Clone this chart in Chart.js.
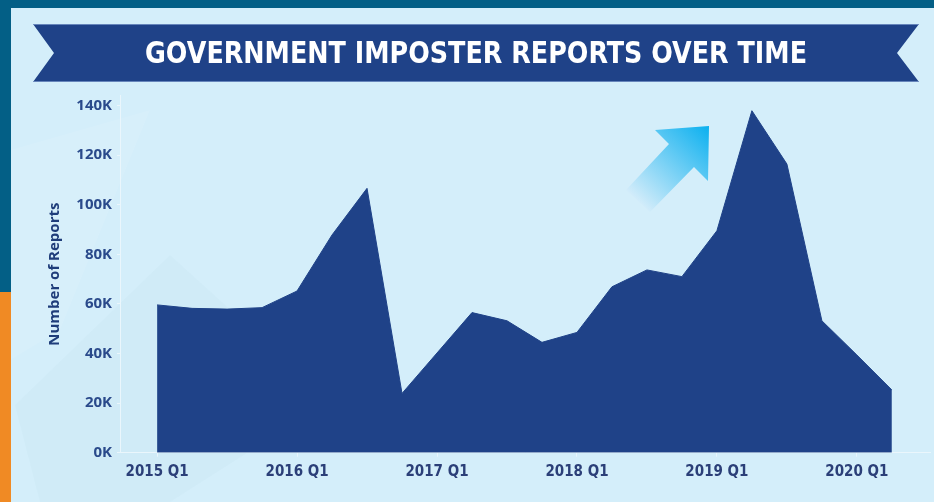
<!doctype html>
<html lang="en">
  <head>
    <meta charset="utf-8">
    <title>Government imposter reports over time</title>
    <script src="https://cdn.jsdelivr.net/npm/chart.js@4.4.0/dist/chart.umd.min.js"></script>
    <style>
      html, body { margin: 0; padding: 0; background: #d4eefa; }
      #wrap { width: 934px; height: 502px; position: relative; }
    </style>
  </head>
  <body>
    <div id="wrap"><canvas id="reportsChart"></canvas></div>

    <script>
      // quarterly report counts
      const quarters = ['2015 Q1', '2015 Q2', '2015 Q3', '2015 Q4',
                        '2016 Q1', '2016 Q2', '2016 Q3', '2016 Q4',
                        '2017 Q1', '2017 Q2', '2017 Q3', '2017 Q4',
                        '2018 Q1', '2018 Q2', '2018 Q3', '2018 Q4',
                        '2019 Q1', '2019 Q2', '2019 Q3', '2019 Q4',
                        '2020 Q1', '2020 Q2'];
      const reports = [59600, 58200, 57900, 58500,
                       65200, 87800, 106600, 23900,
                       40200, 56500, 53200, 44500,
                       48500, 66900, 73700, 71000,
                       89500, 137900, 116400, 53200,
                       39400, 25300];
      const xTickIdx = [0, 4, 8, 12, 16, 20];
      const yTicks = [0, 20000, 40000, 60000, 80000, 100000, 120000, 140000];
      const chartTitle = 'GOVERNMENT IMPOSTER REPORTS OVER TIME';
      const yTitle = 'Number of Reports';

      const navy = '#1f4288';
      const axisLine = '#eaf6fc';

      // background, borders, ribbon banner and the arrow
      const decor = {
        id: 'decor',
        beforeDraw(chart) {
          const ctx = chart.ctx;
          ctx.save();
          ctx.fillStyle = '#d4eefa';
          ctx.fillRect(0, 0, 934, 502);

          // faint watermark shapes
          ctx.fillStyle = 'rgba(255,255,255,0.08)';
          ctx.beginPath();
          ctx.moveTo(10, 150); ctx.lineTo(150, 110); ctx.lineTo(60, 330); ctx.lineTo(10, 360);
          ctx.closePath(); ctx.fill();
          ctx.fillStyle = 'rgba(160,200,220,0.08)';
          ctx.beginPath();
          ctx.moveTo(15, 405); ctx.lineTo(170, 255); ctx.lineTo(330, 400); ctx.lineTo(170, 502); ctx.lineTo(40, 502);
          ctx.closePath(); ctx.fill();

          // outer frame
          ctx.fillStyle = '#035f86';
          ctx.fillRect(0, 0, 934, 8);
          ctx.fillRect(0, 0, 11, 292);
          ctx.fillStyle = '#f08a24';
          ctx.fillRect(0, 292, 11, 210);

          // ribbon
          ctx.fillStyle = navy;
          ctx.beginPath();
          ctx.moveTo(33, 24); ctx.lineTo(919, 24); ctx.lineTo(897, 53);
          ctx.lineTo(919, 82); ctx.lineTo(33, 82); ctx.lineTo(54, 53);
          ctx.closePath(); ctx.fill();
          ctx.strokeStyle = 'rgba(120,150,200,0.8)';
          ctx.lineWidth = 1;
          ctx.beginPath();
          ctx.moveTo(33, 24.5); ctx.lineTo(919, 24.5);
          ctx.moveTo(33, 81.5); ctx.lineTo(919, 81.5);
          ctx.stroke();

          ctx.fillStyle = '#ffffff';
          ctx.font = 'bold 31px "DejaVu Sans Condensed", "DejaVu Sans", sans-serif';
          ctx.textAlign = 'center';
          ctx.textBaseline = 'middle';
          ctx.fillText(chartTitle, 476, 55, 662);

          // rising arrow
          const g = ctx.createLinearGradient(638, 201, 709, 126);
          g.addColorStop(0, '#d2ecfa');
          g.addColorStop(1, '#0bb0ef');
          ctx.fillStyle = g;
          ctx.beginPath();
          ctx.moveTo(709, 126); ctx.lineTo(708, 181); ctx.lineTo(694, 167);
          ctx.lineTo(650, 212); ctx.lineTo(626, 190); ctx.lineTo(669, 144);
          ctx.lineTo(655, 130);
          ctx.closePath(); ctx.fill();
          ctx.restore();
        }
      };

      const points = reports.map((v, i) => ({ x: i, y: v }));

      new Chart(document.getElementById('reportsChart'), {
        type: 'line',
        data: {
          datasets: [{
            label: yTitle,
            data: points,
            fill: 'origin',
            backgroundColor: navy,
            borderColor: navy,
            borderWidth: 1,
            pointRadius: 0,
            tension: 0
          }]
        },
        options: {
          responsive: true,
          maintainAspectRatio: false,
          animation: false,
          layout: { padding: { left: 0, right: 4, top: 95.6, bottom: 0 } },
          plugins: {
            legend: { display: false },
            tooltip: { enabled: false }
          },
          scales: {
            x: {
              type: 'linear',
              min: -1.06,
              max: 22.09,
              afterBuildTicks(scale) { scale.ticks = xTickIdx.map(v => ({ value: v })); },
              afterFit(scale) { scale.height = 49.3; },
              border: { display: true, color: axisLine, width: 1 },
              grid: { drawOnChartArea: false, drawTicks: true, tickLength: 4, color: axisLine },
              ticks: {
                autoSkip: false,
                maxRotation: 0,
                padding: 6,
                color: '#2b3f78',
                font: { family: '"DejaVu Sans Condensed", "DejaVu Sans", sans-serif', size: 15, weight: 'bold' },
                callback: v => quarters[v]
              }
            },
            y: {
              min: 0,
              max: 144000,
              afterBuildTicks(scale) { scale.ticks = yTicks.map(v => ({ value: v })); },
              afterFit(scale) { scale.width = 120; },
              border: { display: true, color: axisLine, width: 1 },
              grid: { drawOnChartArea: false, drawTicks: true, tickLength: 3, color: axisLine },
              title: {
                display: true,
                text: yTitle,
                color: '#1f3d7a',
                padding: { top: 46 },
                font: { family: '"Open Sans", sans-serif', size: 15, weight: 'bold' }
              },
              ticks: {
                padding: 5,
                color: '#2a4a8b',
                font: { family: '"Open Sans", sans-serif', size: 15, weight: 'bold' },
                callback: v => (v / 1000) + 'K'
              }
            }
          }
        },
        plugins: [decor]
      });
    </script>
  </body>
</html>
